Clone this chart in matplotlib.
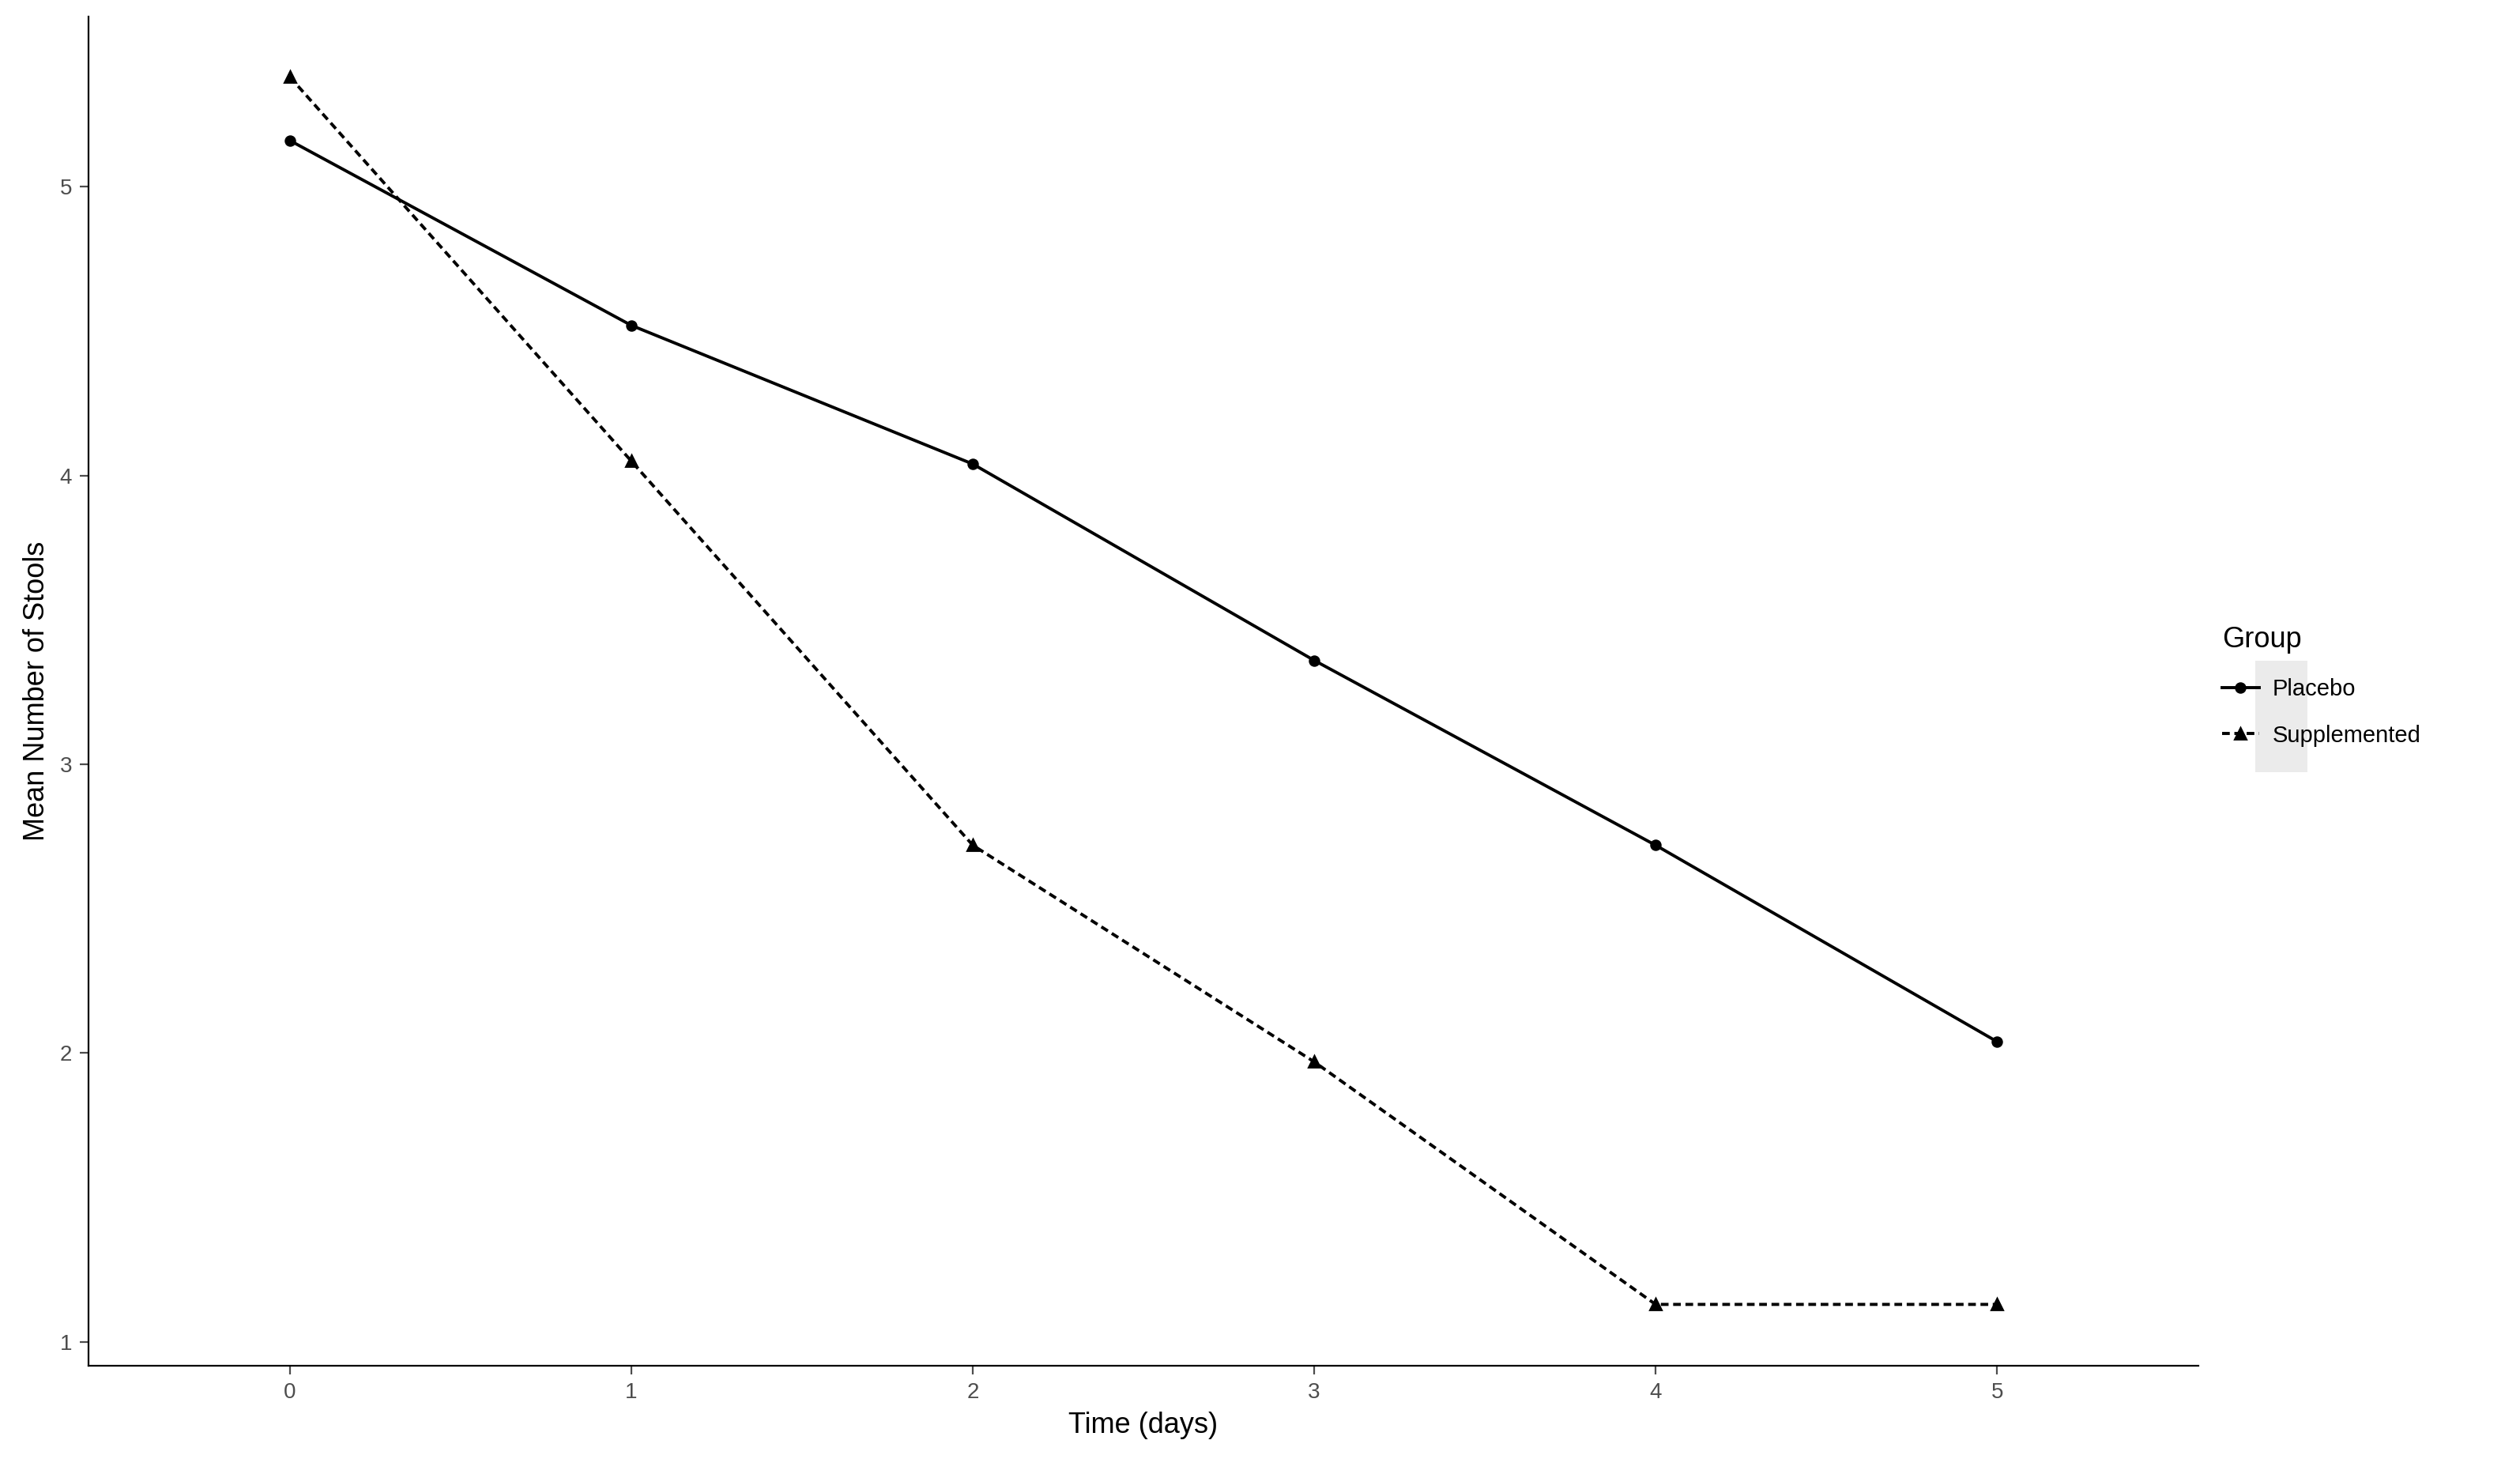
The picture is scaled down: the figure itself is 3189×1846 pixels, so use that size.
import matplotlib
matplotlib.use("Agg")
import matplotlib.pyplot as plt
from matplotlib.patches import Rectangle

days = [0, 1, 2, 3, 4, 5]
placebo = [5.16, 4.52, 4.04, 3.36, 2.72, 2.04]
supplemented = [5.38, 4.05, 2.72, 1.97, 1.13, 1.13]
groups = ["Placebo", "Supplemented"]

plt.rcParams['font.family'] = ['Liberation Sans', 'DejaVu Sans']
fig = plt.figure(figsize=(3189/200, 1846/200), dpi=200)
ax = fig.add_axes([0.0351, 0.0638, 0.8373, 0.925])
ax.plot(days, placebo, '-', color='black', marker='o', markersize=4.2, lw=1.4, label=groups[0])
ax.plot(days, supplemented, ':', color='black', marker='^', markersize=5, lw=1.4,
        dashes=(2.5, 1.5), label=groups[1])
ax.set_xlim(-0.59, 5.59)
ax.set_ylim(0.917, 5.59)
ax.set_xticks(days)
ax.set_yticks([1, 2, 3, 4, 5])
ax.tick_params(labelsize=10, colors='#4d4d4d', length=4)
for s in ['top', 'right']:
    ax.spines[s].set_visible(False)
ax.set_xlabel("Time (days)", fontsize=13)
ax.set_ylabel("Mean Number of Stools", fontsize=13)
fig.patches.append(Rectangle((0.8948, 0.471), 0.021, 0.076, transform=fig.transFigure,
                             facecolor='#ebebeb', edgecolor='none', zorder=0))
leg = fig.legend(loc='upper left', bbox_to_anchor=(0.8735, 0.585), frameon=False,
                 title="Group", fontsize=10.5, title_fontsize=13, handlelength=1.6,
                 labelspacing=1.05, handletextpad=0.6)
leg._legend_box.align = "left"
fig.savefig("out.png", dpi=200)
